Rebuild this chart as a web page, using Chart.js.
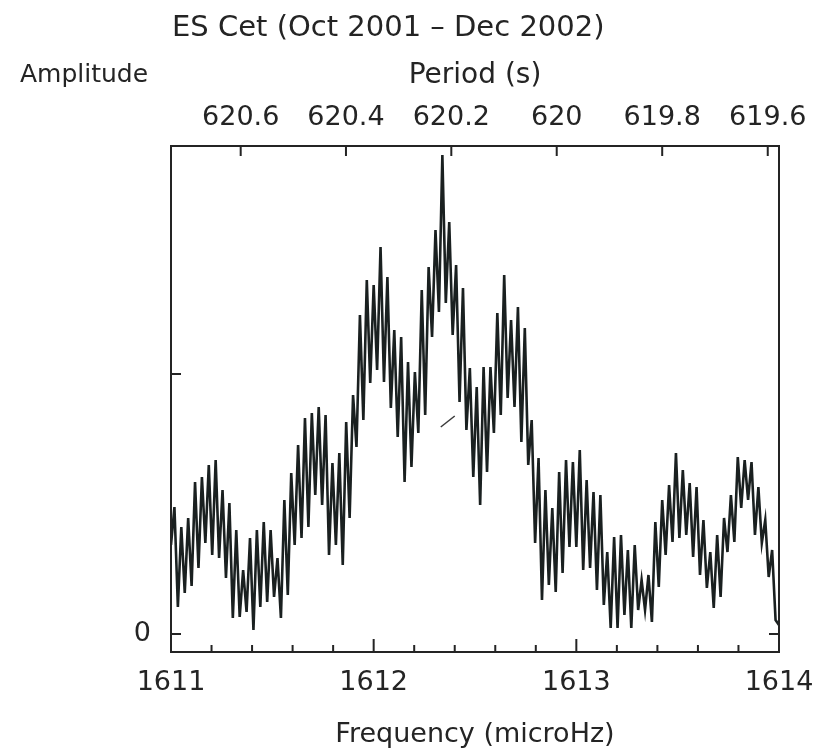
<!DOCTYPE html>
<html>
<head>
<meta charset="utf-8">
<script src="https://cdn.jsdelivr.net/npm/chart.js@4.4.1/dist/chart.umd.min.js"></script>
<style>
  html, body { margin: 0; padding: 0; background: #ffffff; }
  canvas { display: block; }
</style>
</head>
<body>
<canvas id="chart" width="831" height="752"></canvas>
<script>
// Amplitude spectrum of ES Cet around 1612 microHz, sampled on an even frequency grid
const FREQ_START = 1611;
const FREQ_END = 1614;

// amplitude (arbitrary units), one value per grid step, left to right
const amplitude = [
  0.89,
  1.27,0.27, 1.07,0.41, 1.16,0.48, 1.52,0.66, 1.57,0.91, 1.69,0.79, 1.74,0.76, 1.44,0.56, 1.31,0.16, 1.04,0.17,
  0.64,0.22, 0.96,0.04, 1.04,0.27, 1.12,0.32, 1.04,0.37, 0.76,0.16, 1.34,0.39, 1.61,0.89, 1.89,0.96, 2.16,1.07,
  2.21,1.39, 2.27,1.29, 2.19,0.79, 1.71,0.89, 1.81,0.69, 2.12,1.16, 2.39,1.87, 3.19,2.14, 3.54,2.51, 3.49,2.64,
  3.87,2.52, 3.57,2.26, 3.04,1.97, 2.97,1.52, 2.72,1.67, 2.62,2.01, 3.44,2.19, 3.67,2.97, 4.04,3.22, 4.79,3.31,
  4.12,2.99, 3.69,2.32, 3.46,2.04, 2.66,1.57, 2.47,1.29, 2.67,1.62, 2.67,2.01, 3.21,2.19, 3.59,2.36, 3.14,2.27,
  3.27,1.92, 3.06,1.69, 2.14,0.91, 1.76,0.34, 1.44,0.49, 1.26,0.42, 1.62,0.61, 1.74,0.87, 1.72,0.87, 1.84,0.64,
  1.54,0.66, 1.42,0.44, 1.39,0.29, 0.82,0.06, 0.97,0.06, 0.99,0.19, 0.84,0.06, 0.89,0.24, 0.54,0.24, 0.59,0.12,
  1.12,0.47, 1.34,0.79, 1.49,0.92, 1.81,0.96, 1.64,0.99, 1.51,0.77, 1.47,0.59, 1.14,0.46, 0.82,0.26, 0.99,0.37,
  1.16,0.82, 1.39,0.92, 1.77,1.26, 1.74,1.34, 1.72,0.99, 1.47,0.91, 1.14,0.57, 0.84,0.14,
  0.09
];

// short stray stroke inside the frame
const markFreq = [1612.331, 1612.400];
const markAmp = [2.07, 2.18];

// axis ticks
const freqTickStep = 0.2;
const periodTicks = [620.6, 620.4, 620.2, 620, 619.8, 619.6];
const periodLabels = ['620.6', '620.4', '620.2', '620', '619.8', '619.6'];
const ampTicks = [0, 2.6];
const ampTickLabels = ['0', ''];
const AMP_MIN = -0.18;
const AMP_MAX = 4.88;

const titleText = 'ES Cet (Oct 2001 \u2013 Dec 2002)';
const yTitleText = 'Amplitude';
const topTitleText = 'Period (s)';
const bottomTitleText = 'Frequency (microHz)';

const INK = '#242424';
const FONT = 'DejaVu Sans';

const freqStep = (FREQ_END - FREQ_START) / (amplitude.length - 1);
const spectrum = amplitude.map((a, i) => ({ x: FREQ_START + i * freqStep, y: a }));
const mark = markFreq.map((f, i) => ({ x: f, y: markAmp[i] }));

function isWhole(v) { return Math.abs(v - Math.round(v)) < 1e-6; }

// frame, inward tick marks and the free-standing texts
const frameAndText = {
  id: 'frameAndText',
  afterDraw(chart) {
    const { ctx, chartArea: a, scales } = chart;
    ctx.save();
    ctx.strokeStyle = INK;
    ctx.lineWidth = 2;
    ctx.strokeRect(a.left, a.top, a.right - a.left, a.bottom - a.top);
    ctx.beginPath();
    scales.x.ticks.forEach(t => {
      const px = scales.x.getPixelForValue(t.value);
      const len = isWhole(t.value) ? 13 : 7;
      ctx.moveTo(px, a.bottom);
      ctx.lineTo(px, a.bottom - len);
    });
    scales.x2.ticks.forEach(t => {
      const px = scales.x2.getPixelForValue(t.value);
      ctx.moveTo(px, a.top);
      ctx.lineTo(px, a.top + 10);
    });
    scales.y.ticks.forEach(t => {
      const py = scales.y.getPixelForValue(t.value);
      ctx.moveTo(a.left, py);
      ctx.lineTo(a.left + 10, py);
    });
    const y0 = scales.y.getPixelForValue(0);
    ctx.moveTo(a.right, y0);
    ctx.lineTo(a.right - 10, y0);
    ctx.stroke();

    ctx.fillStyle = INK;
    ctx.textBaseline = 'middle';
    ctx.textAlign = 'left';
    ctx.font = '29px "' + FONT + '"';
    ctx.fillText(titleText, a.left + 1, 28);
    ctx.font = '25px "' + FONT + '"';
    ctx.fillText(yTitleText, a.left - 151, 75);
    ctx.restore();
  }
};

new Chart(document.getElementById('chart'), {
  type: 'line',
  data: {
    datasets: [
      {
        data: spectrum,
        borderColor: '#1a2020',
        borderWidth: 2.6,
        pointRadius: 0,
        tension: 0,
        fill: false
      },
      {
        data: mark,
        borderColor: '#3a3a3a',
        borderWidth: 1.5,
        pointRadius: 0,
        tension: 0,
        fill: false
      }
    ]
  },
  options: {
    responsive: false,
    animation: false,
    devicePixelRatio: 1,
    layout: { padding: { left: 0, right: 52, top: 0, bottom: 0 } },
    plugins: { legend: { display: false }, tooltip: { enabled: false }, title: { display: false } },
    scales: {
      x: {
        type: 'linear',
        position: 'bottom',
        min: FREQ_START,
        max: FREQ_END,
        border: { display: false },
        grid: { display: false, drawTicks: false },
        ticks: {
          stepSize: freqTickStep,
          autoSkip: false,
          maxRotation: 0,
          padding: 15,
          color: INK,
          font: { family: FONT, size: 27 },
          callback: v => isWhole(v) ? String(Math.round(v)) : ''
        },
        title: {
          display: true,
          text: bottomTitleText,
          color: INK,
          font: { family: FONT, size: 27 },
          padding: { top: 0, bottom: 1 }
        },
        afterFit: s => { s.height = 100; }
      },
      x2: {
        type: 'linear',
        position: 'top',
        min: FREQ_START,
        max: FREQ_END,
        border: { display: false },
        grid: { display: false, drawTicks: false },
        afterBuildTicks: s => { s.ticks = periodTicks.map(p => ({ value: 1e6 / p })); },
        ticks: {
          autoSkip: false,
          maxRotation: 0,
          padding: 12,
          color: INK,
          font: { family: FONT, size: 27 },
          callback: (v, i) => periodLabels[i]
        },
        title: {
          display: true,
          text: topTitleText,
          color: INK,
          font: { family: FONT, size: 28 },
          padding: { top: 59, bottom: 0 }
        },
        afterFit: s => { s.height = 146; }
      },
      y: {
        type: 'linear',
        position: 'left',
        min: AMP_MIN,
        max: AMP_MAX,
        border: { display: false },
        grid: { display: false, drawTicks: false },
        afterBuildTicks: s => { s.ticks = ampTicks.map(v => ({ value: v })); },
        ticks: {
          autoSkip: false,
          padding: 20,
          color: INK,
          font: { family: FONT, size: 27 },
          callback: (v, i) => ampTickLabels[i]
        },
        afterFit: s => { s.width = 171; }
      }
    }
  },
  plugins: [frameAndText]
});
</script>
</body>
</html>
